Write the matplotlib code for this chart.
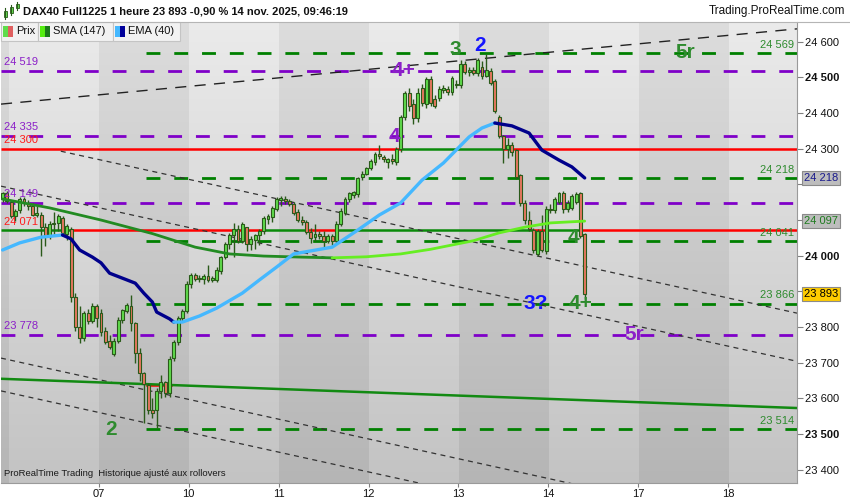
import numpy as np
import matplotlib
matplotlib.use("Agg")
import matplotlib.pyplot as plt
from matplotlib.patches import Rectangle
from matplotlib.transforms import blended_transform_factory

plt.rcParams['font.family'] = ['Liberation Sans', 'DejaVu Sans']

##########################################################################################
# data (DAX40 Full1225, 1 hour bars)

day_labels = ["07", "10", "11", "12", "13", "14", "17", "18"]
bars_per_day = 21
first_day_bar = 23     # 2 bars of 05 nov + 21 bars of 06 nov before the "07" tick

bar_open = [24160, 24175, 24150, 24112, 24128, 24158, 24148, 24140, 24115, 24115,
            24080, 24055, 24088, 24092, 24105, 24062, 24075, 23885, 23800, 23768,
            23838, 23818, 23860,
            23840, 23790, 23762, 23725, 23762, 23820, 23845, 23858, 23810, 23727,
            23670, 23638, 23568, 23568, 23622, 23645, 23615, 23712, 23758, 23825, 23845,
            23920, 23945, 23934, 23936, 23944, 23932, 23932, 23958, 23995, 24032,
            24058, 24075, 24040, 24080, 24032, 24045, 24058, 24070, 24102, 24108, 24130,
            24155, 24160, 24152, 24145, 24122, 24100, 24095, 24066, 24052, 24062,
            24055, 24040, 24055, 24040, 24090, 24120, 24158, 24170, 24172, 24220, 24230,
            24245, 24262, 24285, 24278, 24262, 24270, 24262, 24300, 24388, 24455,
            24425, 24385, 24470, 24425, 24495, 24440, 24442, 24465, 24468, 24460, 24482,
            24478, 24538, 24515, 24520, 24512, 24528, 24505, 24518, 24490, 24390,
            24335, 24298, 24310, 24295, 24225, 24148, 24100, 24072, 24005, 24068, 24012,
            24132, 24128, 24150, 24175, 24130, 24135, 24150, 24175, 24060]
bar_high = [24180, 24182, 24155, 24132, 24165, 24165, 24155, 24148, 24138, 24122,
            24092, 24098, 24122, 24118, 24112, 24090, 24080, 23895, 23860, 23845,
            23852, 23868, 23865,
            23850, 23800, 23778, 23768, 23828, 23852, 23868, 23890, 23815, 23740,
            23675, 23642, 23600, 23630, 23665, 23650, 23720, 23765, 23830, 23852, 23930,
            23952, 23952, 23945, 23948, 23975, 23942, 23968, 24000, 24038, 24065,
            24092, 24085, 24095, 24078, 24055, 24062, 24075, 24110, 24118, 24140, 24165,
            24168, 24168, 24160, 24150, 24130, 24112, 24100, 24078, 24090, 24068,
            24070, 24062, 24060, 24098, 24135, 24165, 24180, 24182, 24222, 24238, 24250,
            24272, 24290, 24310, 24282, 24275, 24285, 24305, 24395, 24462, 24470,
            24440, 24470, 24480, 24500, 24505, 24450, 24475, 24478, 24475, 24505, 24492,
            24548, 24545, 24528, 24530, 24555, 24545, 24566, 24525, 24495, 24395,
            24338, 24330, 24318, 24300, 24228, 24155, 24125, 24078, 24075, 24115, 24140,
            24145, 24165, 24180, 24182, 24155, 24172, 24178, 24180, 24065]
bar_low = [24150, 24148, 24105, 24098, 24120, 24140, 24128, 24110, 24108, 23998,
           24028, 24048, 24062, 24068, 24055, 24045, 23870, 23790, 23755, 23760,
           23808, 23812, 23800,
           23775, 23752, 23738, 23718, 23755, 23812, 23838, 23790, 23700, 23648,
           23530, 23555, 23545, 23517, 23600, 23605, 23605, 23705, 23750, 23815, 23840,
           23910, 23928, 23926, 23922, 23925, 23926, 23925, 23950, 23990, 24020,
           23995, 24035, 24035, 24012, 24015, 24018, 24030, 24062, 24090, 24095, 24125,
           24140, 24145, 24138, 24115, 24095, 24085, 24060, 24035, 24040, 24048,
           24025, 24035, 24030, 24035, 24082, 24115, 24150, 24162, 24165, 24212, 24225,
           24240, 24255, 24272, 24262, 24245, 24258, 24255, 24290, 24380, 24405,
           24370, 24375, 24420, 24415, 24420, 24415, 24435, 24455, 24450, 24450, 24470,
           24470, 24510, 24505, 24508, 24505, 24495, 24500, 24478, 24400, 24330,
           24260, 24275, 24280, 24215, 24140, 24090, 24070, 24008, 23998, 24010, 24005,
           24120, 24120, 24145, 24120, 24122, 24128, 24145, 24050, 23880]
bar_close = [24175, 24152, 24112, 24126, 24160, 24148, 24138, 24115, 24120, 24080,
             24055, 24090, 24092, 24110, 24065, 24082, 23885, 23800, 23768, 23838,
             23818, 23860, 23825,
             23785, 23758, 23745, 23762, 23820, 23848, 23862, 23812, 23727, 23672,
             23640, 23568, 23560, 23622, 23645, 23615, 23710, 23758, 23825, 23845, 23922,
             23945, 23934, 23938, 23944, 23932, 23938, 23960, 23995, 24032, 24058,
             24075, 24040, 24088, 24032, 24048, 24058, 24070, 24105, 24110, 24135, 24160,
             24162, 24152, 24145, 24120, 24100, 24095, 24066, 24050, 24062, 24055,
             24040, 24055, 24040, 24090, 24125, 24158, 24175, 24178, 24218, 24230, 24245,
             24265, 24285, 24280, 24272, 24270, 24266, 24300, 24388, 24455, 24420,
             24385, 24455, 24428, 24495, 24428, 24420, 24468, 24470, 24458, 24498, 24478,
             24538, 24515, 24522, 24512, 24548, 24505, 24520, 24485, 24405, 24335,
             24298, 24310, 24290, 24222, 24148, 24100, 24075, 24015, 24070, 24015, 24132,
             24128, 24158, 24175, 24130, 24148, 24168, 24172, 24055, 23893]

# moving averages (bar index, value)
sma_bars = [0, 11, 23, 35, 45, 53, 61, 70, 77, 85, 93, 100, 105, 110, 116, 122, 128, 136]
sma_vals = [24159, 24134, 24100, 24062, 24024, 24005, 23999, 23996, 23994, 23997,
            24005, 24018, 24030, 24042, 24064, 24080, 24092, 24097]
ema_bars = [0, 4, 9, 14, 16, 18, 21, 23, 25, 28, 31, 33, 35, 36, 39, 40, 42, 46, 50,
            56, 60, 64, 68, 77, 83, 88, 93, 98, 103, 109, 112, 115, 116, 119, 123,
            126, 130, 133, 136]
ema_vals = [24016, 24036, 24052, 24058, 24047, 24016, 23996, 23980, 23951, 23937,
            23923, 23895, 23870, 23842, 23823, 23814, 23814, 23831, 23853, 23895,
            23932, 23968, 24005, 24024, 24072, 24114, 24148, 24212, 24260, 24333,
            24358, 24372, 24370, 24364, 24344, 24296, 24268, 24249, 24218]

# horizontal levels
green_levels = [24569, 24218, 24041, 23866, 23514]
purple_levels = [24519, 24335, 24149, 23778]
pivot_levels = [24300, 24071]
short_level = 23637

# wave labels (text, bar position, price, colour)
wave_labels = [("2", 25.8, 23514, "#2e8b2e"), ("4", 92.1, 24335, "#8b1fc8"),
               ("4+", 94.2, 24519, "#8b1fc8"), ("3", 106.3, 24577, "#2e8b2e"),
               ("2", 112.1, 24588, "#1515ff"), ("5r", 160.0, 24569, "#2e8b2e"),
               ("4", 133.8, 24050, "#2e8b2e"), ("3?", 125.0, 23866, "#1515ff"),
               ("4+", 135.5, 23866, "#2e8b2e"), ("5r", 148.1, 23778, "#8b1fc8")]

# dashed channel lines ((bar, price), (bar, price))
xmin, xmax = 0.13, 186.1
ymin, ymax = 23362.8, 24655.2
top_line = ((xmin, 24425), (xmax, 24636))
channel_lines = [((14.1, 24293), (xmax, 23839)), ((xmin, 24195), (xmax, 23704)),
                 ((xmin, 23713), (xmax, 23222)), ((xmin, 23621), (xmax, 23129))]
long_green_line = ((xmin, 23655), (xmax, 23573))

##########################################################################################
def fmt(v):
    return "{:,}".format(int(round(v))).replace(",", " ")

def seg_colour_runs(flags):
    """split a polyline into runs of equal flag"""
    runs = []
    start = 0
    for k in range(1, len(flags)):
        if flags[k] != flags[start]:
            runs.append((start, k, flags[start]))
            start = k
    runs.append((start, len(flags), flags[start]))
    return runs

W, H = 850, 500
fig = plt.figure(figsize=(8.5, 5.0), dpi=100, facecolor="white")
ax = fig.add_axes([1/W, 1 - 483/H, 796/W, 461/H])
ax.set_xlim(xmin, xmax)
ax.set_ylim(ymin, ymax)

# background: alternating day bands with a vertical gradient
xs = np.linspace(xmin, xmax, 1600)
lighter = (np.floor((xs - first_day_bar) / bars_per_day) % 2) == 1
t = np.linspace(0, 1, 300)[:, None]
light = 0.92 - 0.155*t
dark = 0.865 - 0.155*t
img = np.where(lighter[None, :], light, dark)
ax.imshow(np.dstack([img, img, img]), extent=(xmin, xmax, ymin, ymax), aspect="auto",
          origin="upper", interpolation="nearest", zorder=0)

n = len(bar_close)
xb = np.arange(n) + 0.5
o = np.array(bar_open); hi = np.array(bar_high); lo = np.array(bar_low); c = np.array(bar_close)

# purple levels across the whole chart
for lev in purple_levels:
    ax.plot([xmin, xmax], [lev, lev], color="#7f00c8", lw=2.0, dashes=(5, 5), zorder=1.5)
    ax.text(0.85, lev + 25, fmt(lev), color="#8b1fc8", fontsize=8, va="center", ha="left", zorder=6)

# green levels from the 07 nov low
fib_start = 33.9
for lev in green_levels:
    ax.plot([fib_start, xmax], [lev, lev], color="#008000", lw=2.0, dashes=(5, 5), zorder=1.5)
    ax.text(185.5, lev + 23, fmt(lev), color="#2e8b2e", fontsize=8, va="center", ha="right", zorder=6)

# pivot levels: green while price is above, red while below
for lev in pivot_levels:
    px = np.concatenate([[xmin], xb, [xmax]])
    above = np.concatenate([[c[0] > lev], c > lev, [c[-1] > lev]])
    for a, b, f in seg_colour_runs(above):
        seg = px[a:min(b + 1, len(px))]
        ax.plot(seg, [lev]*len(seg), color="#0a8a0a" if f else "#ff0000", lw=1.8,
                zorder=1.6, solid_capstyle="butt")
    ax.text(0.85, lev + 24, fmt(lev), color="#ff1a1a", fontsize=8, va="center", ha="left", zorder=6)
ax.plot([34.2, 39.8], [short_level, short_level], color="#ff0000", lw=1.8, zorder=1.6)

# trend / channel lines
ax.plot([top_line[0][0], top_line[1][0]], [top_line[0][1], top_line[1][1]],
        color="#222222", lw=1.0, dashes=(8, 6), zorder=1.7)
for (x0, y0), (x1, y1) in channel_lines:
    ax.plot([x0, x1], [y0, y1], color="#333333", lw=0.9, dashes=(4, 3.5), zorder=1.7)
ax.plot([long_green_line[0][0], long_green_line[1][0]],
        [long_green_line[0][1], long_green_line[1][1]], color="#128a12", lw=1.8, zorder=1.7)

# candles
wick = "#2a5a1a"
up = c >= o
ax.vlines(xb, lo, hi, color=wick, lw=1.0, zorder=3)
body_lo = np.minimum(o, c)
body_h = np.maximum(np.abs(c - o), 2.5)
ax.bar(xb, body_h, bottom=body_lo, width=0.68, color=np.where(up, "#5fdc4c", "#e8775f"),
       edgecolor=wick, linewidth=0.8, zorder=3.1)

# moving averages, coloured by direction
sx = np.array(sma_bars) + 0.5; sv = np.array(sma_vals)
rising = np.diff(sv) >= 0
for a, b, f in seg_colour_runs(rising):
    ax.plot(sx[a:b + 1], sv[a:b + 1], color="#66ee22" if f else "#228b22", lw=2.0,
            zorder=4, solid_capstyle="round")
ex = np.array(ema_bars) + 0.5; ev = np.array(ema_vals)
erise = np.diff(ev) >= 0
for a, b, f in seg_colour_runs(erise):
    ax.plot(ex[a:b + 1], ev[a:b + 1], color="#45b8ff" if f else "#00008b", lw=2.4,
            zorder=4, solid_capstyle="round")

# wave labels
for txt, xw, yw, col in wave_labels:
    ax.text(xw, yw, txt, color=col, fontsize=15, fontweight="bold", ha="center",
            va="center", zorder=7)

ax.text(0.8, 23378, "ProRealTime Trading  Historique ajusté aux rollovers", fontsize=6.8,
        color="#1a1a1a", ha="left", va="bottom", zorder=7)

# axes
for s in ["left", "top"]:
    ax.spines[s].set_visible(False)
for s in ["right", "bottom"]:
    ax.spines[s].set_color("#9a9a9a")
ax.yaxis.tick_right()
box_vals = [ema_vals[-1], sma_vals[-1], bar_close[-1]]
yt = np.arange(23400, 24601, 100)
ax.set_yticks(yt)
# labels hidden under the value boxes stay empty
ax.set_yticklabels(["" if min(abs(v - b) for b in box_vals) < 30 else fmt(v) for v in yt])
for lab, v in zip(ax.get_yticklabels(), yt):
    if v % 500 == 0:
        lab.set_fontweight("bold")
ax.tick_params(axis="y", length=4, color="#808080", labelsize=8, pad=2, labelcolor="#111111")
day_ticks = [first_day_bar + k*bars_per_day for k in range(len(day_labels))]
ax.set_xticks(day_ticks)
ax.set_xticklabels(day_labels)
ax.tick_params(axis="x", length=3, color="#808080", labelsize=8, pad=1, labelcolor="#111111")

# value boxes on the price scale
tr = blended_transform_factory(ax.transAxes, ax.transData)
boxes = [(box_vals[0], "#1a1a8c", "#bdbdbd"), (box_vals[1], "#1e7b1e", "#bdbdbd"),
         (box_vals[2], "#000000", "#ffcc00")]
for val, tc, fc in boxes:
    ax.text(1 + 7/796, val, fmt(val), transform=tr, color=tc, fontsize=8, ha="left",
            va="center", clip_on=False, zorder=10,
            bbox=dict(boxstyle="square,pad=0.18", fc=fc, ec="#8a8a8a", lw=0.8))

# header
def fig_rect(x, y, w, h, **kw):
    fig.add_artist(Rectangle((x/W, 1 - (y + h)/H), w/W, h/H, transform=fig.transFigure, **kw))

fig.add_artist(plt.Line2D([0, 1], [1 - 22/H, 1 - 22/H], transform=fig.transFigure,
                          color="#b5b5b5", lw=0.8))
for cx, y0, y1, b0, b1 in [(5, 8, 19, 11, 17), (11, 5, 15, 7, 13), (17, 2, 10, 4, 8)]:
    fig.add_artist(plt.Line2D([cx/W, cx/W], [1 - y1/H, 1 - y0/H], transform=fig.transFigure,
                              color="#2a5a1a", lw=0.8))
    fig_rect(cx - 1.5, b0, 3, b1 - b0, fc="#5fdc4c", ec="#2a5a1a", lw=0.6)
fig.text(23/W, 1 - 11/H, "DAX40 Full1225 1 heure 23 893 -0,90 % 14 nov. 2025, 09:46:19",
         fontsize=8, fontweight="bold", va="center", ha="left", color="#111111")
fig.text(845/W, 1 - 11/H, "Trading.ProRealTime.com", fontsize=8.5, va="center", ha="right",
         color="#111111")

# legend tabs
tabs = [(1, 37, "Prix", "#5fdc4c", "#e06060"),
        (38, 75, "SMA (147)", "#55ee11", "#1a7a1a"),
        (113, 67, "EMA (40)", "#45b8ff", "#00009b")]
for x0, w, label, c1, c2 in tabs:
    fig_rect(x0, 22, w, 19, fc="#f2f2f2", ec="#c4c4c4", lw=0.8)
    fig_rect(x0 + 2, 26, 5, 11, fc=c1, ec="none")
    fig_rect(x0 + 7, 26, 5, 11, fc=c2, ec="none")
    fig.text((x0 + 15)/W, 1 - 31.5/H, label, fontsize=8, va="center", ha="left", color="#111111")

fig.savefig("out.png", dpi=100, facecolor="white")
